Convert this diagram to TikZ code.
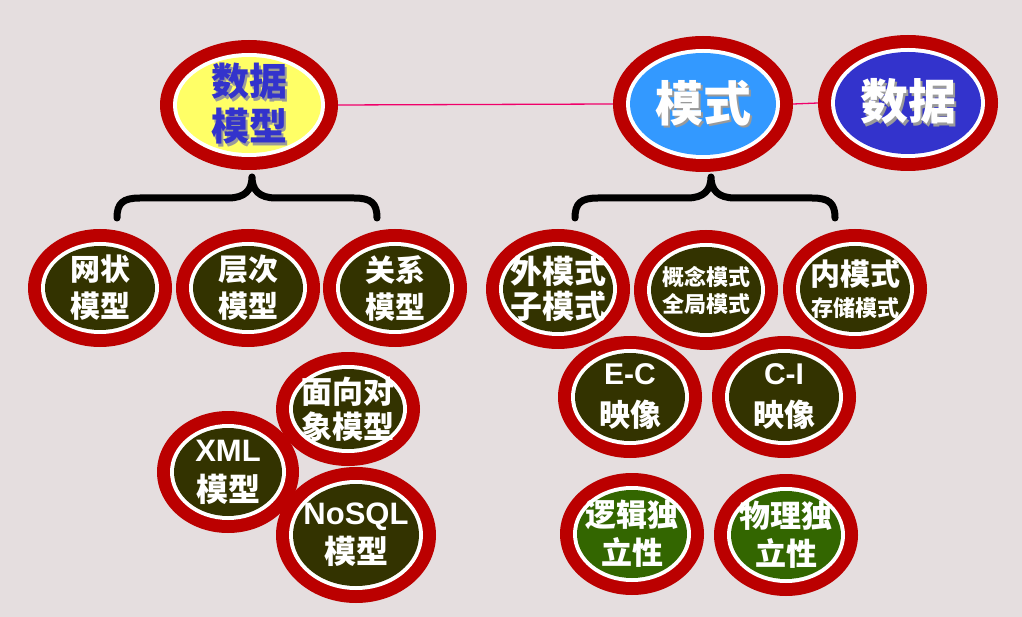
\documentclass[tikz,border=0pt]{standalone}
\usepackage{fontspec}
\usetikzlibrary{shapes.geometric}
\newfontfamily\cjk{Noto Sans CJK SC}
\newfontfamily\lat{Liberation Sans}
\definecolor{bgcol}{HTML}{E5DEDF}
\definecolor{ringred}{HTML}{BB0000}
\definecolor{olive}{HTML}{333300}
\definecolor{leaf}{HTML}{336600}
\definecolor{lemon}{HTML}{FFFF66}
\definecolor{sky}{HTML}{3399FF}
\definecolor{royal}{HTML}{3333CC}
\definecolor{shade}{HTML}{9A9A9A}
\definecolor{linkpink}{HTML}{F0006A}
% text with a drop shadow below and to the right
\newcommand\shadowed[2]{\rlap{\kern2.5pt\raisebox{-2.5pt}{\color{shade}#2}}{\color{#1}#2}}
\newcommand\fs[2]{\fontsize{#1}{#2}\selectfont}
% ringed ellipse: name, x, y, x radius, y radius, fill colour, font size, text
\newcommand\bubble[8]{%
  \fill[ringred] (#2,#3) ellipse ({#4} and {#5});
  \fill[white] (#2,#3) ellipse ({#4-13} and {#5-13});
  \fill[#6] (#2,#3) ellipse ({#4-17} and {#5-17});
  \node[bubtext, font={\cjk\bfseries#7}, minimum width={2*#4pt}, minimum height={2*#5pt}] (#1) at (#2,#3) {#8};
}
\tikzset{
  bubtext/.style={ellipse, inner sep=0pt, text=white, align=center},
  brace/.style={line width=7pt, line join=round, line cap=round, black},
  link/.style={linkpink, line width=1.3pt}
}
\begin{document}
\begin{tikzpicture}[x=1pt, y=-1pt]
\fill[bgcol] (0,0) rectangle (1022,617);
\useasboundingbox (0,0) rectangle (1022,617);

% top row
\bubble{dm}{249}{105}{89}{65}{lemon}{\fs{38}{45}}{\shadowed{royal}{数据}\\\shadowed{royal}{模型}}
\bubble{ms}{703}{104}{90}{68}{sky}{\fs{48}{52}}{\shadowed{white}{模式}}
\bubble{sj}{908}{103}{90}{68}{royal}{\fs{48}{52}}{\shadowed{white}{数据}}
\draw[link] (dm.east) -- (ms.west);
\draw[link] (ms.east) -- (sj.west);

% braces
\draw[brace] (117,218) .. controls (117,203) and (123,198) .. (140,198) -- (228,198)
  .. controls (245,198) and (252,190) .. (252,177)
  .. controls (252,190) and (259,198) .. (276,198) -- (354,198)
  .. controls (371,198) and (377,203) .. (377,218);
\draw[brace] (575,218) .. controls (575,203) and (581,198) .. (598,198) -- (687,198)
  .. controls (704,198) and (711,190) .. (711,177)
  .. controls (711,190) and (718,198) .. (735,198) -- (812,198)
  .. controls (829,198) and (835,203) .. (835,218);

% data models
\bubble{wz}{100}{288}{72}{59}{olive}{\fs{30}{37}}{网状\\模型}
\bubble{cc}{248}{288}{72}{59}{olive}{\fs{30}{37}}{层次\\模型}
\bubble{gx}{395}{288}{72}{59}{olive}{\fs{30}{37}}{关系\\模型}
\bubble{xml}{228}{472}{71}{61}{olive}{\fs{32}{40}}{{\lat\bfseries\fs{31}{40}XML}\\模型}
\bubble{mx}{348}{409}{72}{57}{olive}{\fs{31}{35}}{面向对\\象模型}
\bubble{nosql}{356}{535}{80}{68}{olive}{\fs{32}{39}}{{\lat\bfseries\fs{31}{39}NoSQL}\\模型}

% schemas
\bubble{wms}{558}{289}{72}{60}{olive}{\fs{32}{35}}{外模式\\子模式}
\bubble{gn}{706}{290}{72}{60}{olive}{\fs{22}{27}}{概念模式\\全局模式}
\bubble{nms}{855}{289}{72}{60}{olive}{\fs{22}{31}}{{\fs{30}{31}内模式}\\存储模式}
\bubble{ec}{630}{397}{72}{61}{olive}{\fs{31}{42}}{{\lat\bfseries\fs{30}{42}E-C}\\映像}
\bubble{ci}{784}{397}{72}{61}{olive}{\fs{31}{42}}{{\lat\bfseries\fs{30}{42}C-I}\\映像}
\bubble{lj}{632}{534}{72}{61}{leaf}{\fs{31}{38}}{逻辑独\\立性}
\bubble{wl}{786}{535}{72}{61}{leaf}{\fs{31}{38}}{物理独\\立性}
\end{tikzpicture}
\end{document}
